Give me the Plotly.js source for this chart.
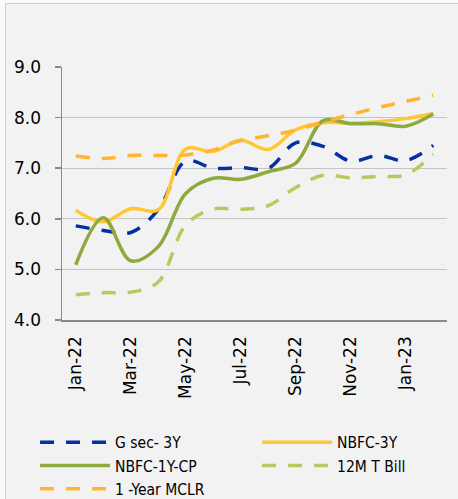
<!DOCTYPE html>
<html>
<head>
<meta charset="utf-8">
<script src="https://cdn.plot.ly/plotly-3.0.1.min.js"></script>
<style>
  html, body { margin: 0; padding: 0; background: #fafafa; width: 458px; height: 499px; overflow: hidden; }
  #frame { position: absolute; left: 5px; top: 3px; width: 460px; height: 500px; border-left: 1px solid #d0d0d0; border-top: 1px solid #d0d0d0; background: #f2f2f2; }
  #chart { position: absolute; left: 0; top: 0; width: 452px; height: 495px; }
</style>
</head>
<body>
<div id="frame"><div id="chart"></div></div>
<script>
const categories = ['Jan-22','Feb-22','Mar-22','Apr-22','May-22','Jun-22','Jul-22','Aug-22','Sep-22','Oct-22','Nov-22','Dec-22','Jan-23','Feb-23'];
const tickLabels = ['Jan-22','Mar-22','May-22','Jul-22','Sep-22','Nov-22','Jan-23'];
const seriesNames = ['G sec- 3Y','NBFC-3Y','NBFC-1Y-CP','12M T Bill','1 -Year MCLR'];
const gsec3Y    = [5.86, 5.77, 5.73, 6.18, 7.14, 7.00, 7.01, 7.00, 7.50, 7.43, 7.14, 7.25, 7.15, 7.45];
const nbfc3Y    = [6.17, 5.94, 6.20, 6.18, 7.38, 7.33, 7.55, 7.37, 7.76, 7.90, 7.89, 7.92, 7.98, 8.08];
const nbfc1YCP  = [5.09, 6.02, 5.17, 5.45, 6.50, 6.80, 6.78, 6.93, 7.10, 7.94, 7.88, 7.88, 7.83, 8.07];
const tBill12M  = [4.50, 4.54, 4.55, 4.75, 5.88, 6.19, 6.19, 6.26, 6.62, 6.86, 6.81, 6.84, 6.87, 7.28];
const mclr1Y    = [7.24, 7.19, 7.25, 7.25, 7.26, 7.36, 7.55, 7.64, 7.75, 7.91, 8.06, 8.20, 8.32, 8.44];
const yTicks    = [4, 5, 6, 7, 8, 9];

const colors = ['#0531a0', '#ffc833', '#8eaa3e', '#b2cc60', '#ffb432'];
const dashes = ['14px,12px', 'solid', 'solid', '14px,12px', '14px,12px'];
const allValues = [gsec3Y, nbfc3Y, nbfc1YCP, tBill12M, mclr1Y];

const traces = allValues.map((vals, i) => ({
  type: 'scatter',
  mode: 'lines',
  name: seriesNames[i],
  x: categories,
  y: vals,
  line: { color: colors[i], width: 3.5, dash: dashes[i], shape: 'spline', smoothing: 1 },
  hoverinfo: 'skip'
}));

const boundaryTicks = [];
for (let i = 0; i <= categories.length; i += 2) boundaryTicks.push(i - 0.5);

const layout = {
  width: 452, height: 495,
  margin: { l: 56, r: 11, t: 63, b: 179, autoexpand: false },
  paper_bgcolor: 'rgba(0,0,0,0)',
  plot_bgcolor: 'rgba(0,0,0,0)',
  font: { family: 'DejaVu Sans', size: 17, color: '#000000' },
  showlegend: true,
  xaxis: {
    type: 'category',
    categoryarray: categories,
    range: [-0.5, categories.length - 0.5],
    tickvals: tickLabels,
    ticktext: tickLabels,
    tickangle: -90,
    ticks: '',
    ticklabelstandoff: 8,
    showgrid: false,
    showline: true, linecolor: '#8a8a8a', linewidth: 1.5,
    zeroline: false,
    tickfont: { family: 'DejaVu Sans', size: 17, color: '#000' },
    fixedrange: true
  },
  xaxis2: {
    type: 'linear',
    overlaying: 'x',
    anchor: 'y',
    side: 'bottom',
    range: [-0.5, categories.length - 0.5],
    tickmode: 'array',
    tickvals: boundaryTicks,
    showticklabels: false,
    ticks: 'outside', ticklen: 6, tickwidth: 1.5, tickcolor: '#8a8a8a',
    showgrid: false, showline: false, zeroline: false,
    fixedrange: true
  },
  yaxis: {
    range: [4, 9],
    tickvals: yTicks,
    tickformat: '.1f',
    ticks: 'outside', ticklen: 6, tickwidth: 1.5, tickcolor: '#8a8a8a',
    ticklabelstandoff: 10,
    showgrid: true, gridcolor: '#c4c4c4', gridwidth: 1.3,
    showline: true, linecolor: '#8a8a8a', linewidth: 1.5,
    zeroline: false,
    tickfont: { family: 'DejaVu Sans', size: 17, color: '#000' },
    fixedrange: true
  },
  legend: {
    orientation: 'h',
    x: -0.07, xanchor: 'left',
    y: -0.418, yanchor: 'top',
    entrywidth: 137, entrywidthmode: 'pixels',
    itemwidth: 70,
    bgcolor: 'rgba(0,0,0,0)',
    font: { family: 'DejaVu Sans Condensed, DejaVu Sans', size: 15.5, color: '#000' },
    traceorder: 'normal'
  }
};

Plotly.newPlot('chart', traces, layout, { displayModeBar: false, staticPlot: true });
</script>
</body>
</html>
